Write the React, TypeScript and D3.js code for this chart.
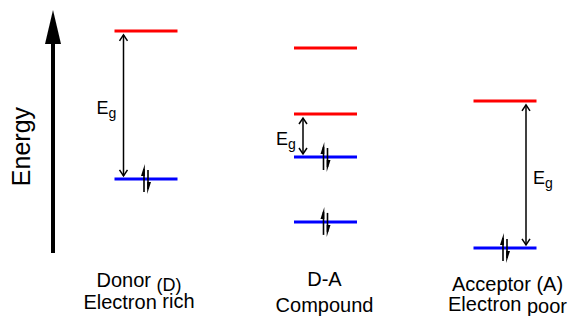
import * as d3 from 'd3';

// categories and their level energies (arbitrary units, 0 = bottom of energy axis)
const categories = ['Donor', 'D-A', 'Acceptor'];
const lumoLevels = [[91.4], [84.4, 57.2], [62.6]];
const homoLevels = [[30.5], [39.5, 12.8], [2.1]];
// band gap arrows: [LUMO, HOMO] pairs
const gaps = [[91.4, 30.5], [57.2, 39.5], [62.6, 2.1]];
const gapSide = [-1, -1, 1];
const labelTop = [['Donor ', '(D)'], ['D-A', ''], ['Acceptor (A)', '']];
const labelBottom = [['Electron ', 'rich'], ['Compound', ''], ['Electron ', 'poor']];

const W = 571;
const H = 316;

export default function App() {
  const x = d3.scalePoint<string>().domain(categories).range([146, 505]);
  const y = d3.scaleLinear().domain([0, 100]).range([253, 10]);
  const half = 31.5;

  const arrowHead = (cx: number, cy: number, dir: number) =>
    `M${cx - 4},${cy + dir * 6} L${cx},${cy} L${cx + 4},${cy + dir * 6}`;

  // paired electron spins (up / down half-arrows)
  const spin = (cx: number, cy: number, key: string) => (
    <g key={key}>
      <line x1={cx - 2} x2={cx - 2} y1={cy + 13} y2={cy - 10} stroke="#000" strokeWidth={1.6} />
      <path d={`M${cx - 1.2},${cy - 15} L${cx - 1.2},${cy - 3} L${cx - 5},${cy - 3} Z`} fill="#000" />
      <line x1={cx + 2} x2={cx + 2} y1={cy - 9} y2={cy + 10} stroke="#000" strokeWidth={1.6} />
      <path d={`M${cx + 1.2},${cy + 15} L${cx + 1.2},${cy + 3} L${cx + 5},${cy + 3} Z`} fill="#000" />
    </g>
  );

  // label layout: center offsets and baselines
  const lblDx = [-7, -1, 2.5];
  const topBase = [287, 286, 291];
  const botBase = [309, 312, 311];
  const topShift = [4, 0, 0];
  const botShift = [-1, 0, 2];

  return (
    <svg width={W} height={H} style={{ position: 'absolute', left: 0, top: 0 }}
      fontFamily="Liberation Sans, Arial, sans-serif">
      <rect width={W} height={H} fill="#fff" />
      {/* energy axis */}
      <line x1={53} x2={53} y1={y(0)} y2={y(88)} stroke="#000" strokeWidth={4} />
      <path d={`M45,${y(86)} L53,${y(100)} L61,${y(86)} Z`} fill="#000" />
      <text transform={`translate(30,${y(43.8)}) rotate(-90)`} textAnchor="middle" fontSize={25}>Energy</text>

      {categories.map((c, i) => {
        const cx = x(c) as number;
        const [top, bot] = gaps[i];
        const ax = cx + gapSide[i] * (gapSide[i] < 0 ? 22.5 : 21);
        const y1 = y(top) + 4;
        const y2 = y(bot) - 3;
        const ex = gapSide[i] < 0 ? ax - 27 : ax + 7;
        return (
          <g key={c}>
            {lumoLevels[i].map((e, j) => (
              <line key={'l' + j} x1={cx - half} x2={cx + half} y1={y(e)} y2={y(e)} stroke="#ff0000" strokeWidth={3} />
            ))}
            {homoLevels[i].map((e, j) => (
              <line key={'h' + j} x1={cx - half} x2={cx + half} y1={y(e)} y2={y(e)} stroke="#0000ff" strokeWidth={3} />
            ))}
            {homoLevels[i].map((e, j) => spin(cx, y(e), 's' + j))}
            <line x1={ax} x2={ax} y1={y1} y2={y2} stroke="#000" strokeWidth={1.5} />
            <path d={arrowHead(ax, y1, 1)} fill="none" stroke="#000" strokeWidth={1.5} />
            <path d={arrowHead(ax, y2, -1)} fill="none" stroke="#000" strokeWidth={1.5} />
            <text x={ex} y={(y1 + y2) / 2 + 9} fontSize={18}>
              E<tspan fontSize={14} dy={4}>g</tspan>
            </text>
            <text x={cx + lblDx[i]} y={topBase[i]} textAnchor="middle" fontSize={20}>
              {labelTop[i][0]}
              {labelTop[i][1] && <tspan fontSize={18} dy={topShift[i]}>{labelTop[i][1]}</tspan>}
            </text>
            <text x={cx + lblDx[i]} y={botBase[i]} textAnchor="middle" fontSize={20}>
              {labelBottom[i][0]}
              {labelBottom[i][1] && <tspan dy={botShift[i]}>{labelBottom[i][1]}</tspan>}
            </text>
          </g>
        );
      })}
    </svg>
  );
}
